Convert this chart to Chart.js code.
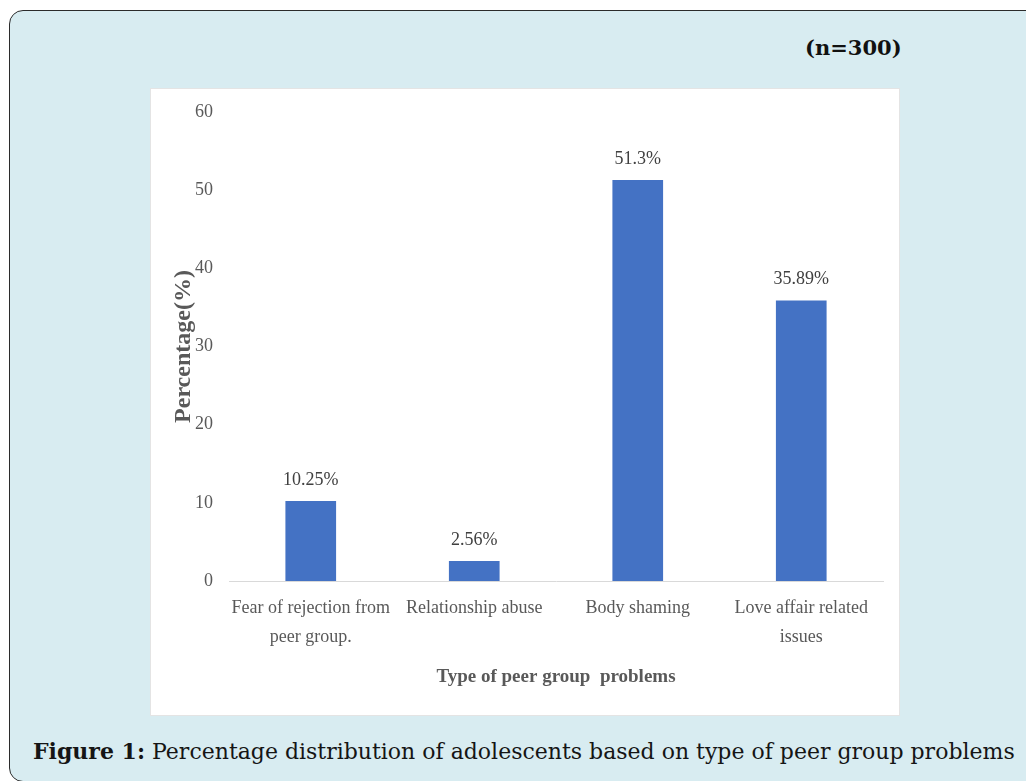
<!DOCTYPE html>
<html>
<head>
<meta charset="utf-8">
<script src="https://cdn.jsdelivr.net/npm/chart.js@4/dist/chart.umd.min.js"></script>
<style>
  html, body { margin: 0; padding: 0; background: #ffffff; width: 1026px; height: 781px; overflow: hidden; }
  .frame {
    position: absolute; left: 9px; top: 10px; width: 1040px; height: 772px;
    background: #d8ecf1; border: 1.5px solid #2b2b2b; border-radius: 14px; box-sizing: border-box;
  }
  .sample {
    position: absolute; left: 805px; top: 35px; font-family: "DejaVu Serif", serif;
    font-weight: bold; font-size: 21px; color: #111; white-space: nowrap;
  }
  .panel {
    position: absolute; left: 150px; top: 88px; width: 750px; height: 628px;
    background: #ffffff; border: 1px solid #e4e4e4; box-sizing: border-box;
  }
  .caption {
    position: absolute; left: 33px; top: 738px; font-family: "DejaVu Serif", serif;
    font-size: 22px; color: #151515; white-space: nowrap;
  }
  .caption b { font-weight: bold; }
</style>
</head>
<body>
<div class="frame"></div>
<div class="sample">(n=300)</div>
<div class="panel"><canvas id="chart" width="748" height="626"></canvas></div>
<div class="caption"><b>Figure 1:</b> Percentage distribution of adolescents based on type of peer group problems</div>
<script>
// Peer group problem categories and their share of adolescents (%)
const categories = [
  ["Fear of rejection from", "peer group."],
  ["Relationship abuse"],
  ["Body shaming"],
  ["Love affair related", "issues"]
];
const percentages = [10.25, 2.56, 51.3, 35.89];
const yTicks = [0, 10, 20, 30, 40, 50, 60];

const serif = '"Liberation Serif", "Times New Roman", serif';

// Writes each bar's value above it
const valueLabels = {
  id: 'valueLabels',
  afterDatasetsDraw(chart) {
    const ctx = chart.ctx;
    const meta = chart.getDatasetMeta(0);
    ctx.save();
    ctx.font = '18px ' + serif;
    ctx.fillStyle = '#404040';
    ctx.textAlign = 'center';
    ctx.textBaseline = 'middle';
    meta.data.forEach((bar, i) => {
      ctx.fillText(percentages[i] + '%', bar.x, bar.y - 21);
    });
    ctx.restore();
  }
};

new Chart(document.getElementById('chart'), {
  type: 'bar',
  data: {
    labels: categories,
    datasets: [{
      data: percentages,
      backgroundColor: '#4472c4',
      borderWidth: 0,
      categoryPercentage: 1,
      barPercentage: 0.31
    }]
  },
  options: {
    responsive: false,
    animation: false,
    layout: { padding: { top: 23, right: 16, bottom: 0, left: 0 } },
    plugins: { legend: { display: false }, tooltip: { enabled: false } },
    scales: {
      x: {
        grid: { display: false, drawTicks: false },
        border: { display: true, color: '#d9d9d9', width: 1 },
        ticks: { color: '#595959', font: { family: serif, size: 18, lineHeight: 1.6 }, padding: 13, maxRotation: 0 },
        title: {
          display: true, text: 'Type of peer group  problems', color: '#595959',
          font: { family: serif, size: 19, weight: 'bold' }, padding: { top: 0, bottom: 27 }
        },
        afterFit(scale) { scale.height = 134; }
      },
      y: {
        min: 0, max: 60,
        grid: { display: false, drawTicks: false },
        border: { display: false },
        afterBuildTicks(scale) { scale.ticks = yTicks.map(v => ({ value: v })); },
        ticks: { color: '#595959', font: { family: serif, size: 18 }, padding: 16 },
        title: {
          display: true, text: 'Percentage(%)', color: '#595959',
          font: { family: serif, size: 24, weight: 'bold' }, padding: { top: 18, bottom: 0 }
        },
        afterFit(scale) {
          scale.width = 78;
          scale.paddingTop = 0;
          scale.paddingBottom = 0;
        }
      }
    }
  },
  plugins: [valueLabels]
});
</script>
</body>
</html>
